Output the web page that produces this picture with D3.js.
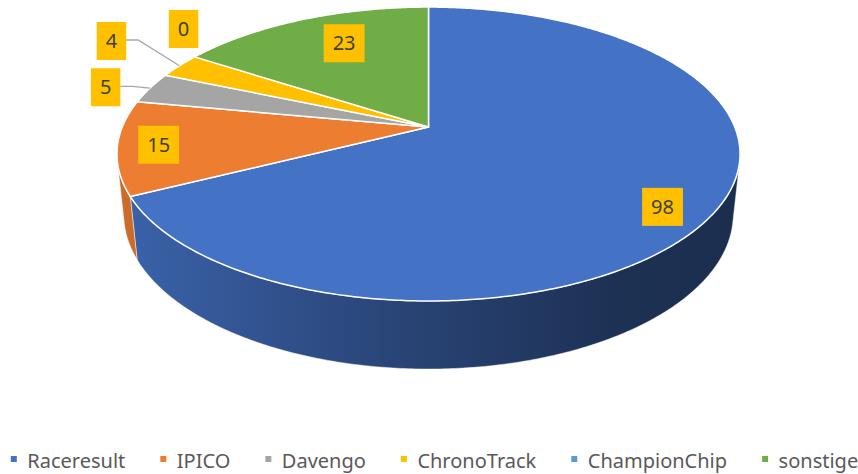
<!DOCTYPE html>
<html><head><meta charset="utf-8">
<script src="https://cdnjs.cloudflare.com/ajax/libs/d3/7.8.5/d3.min.js"></script>
<style>body{margin:0;background:#fff} svg{display:block}</style>
</head><body><svg id="c" width="858" height="474"></svg>
<script>
// ---- data ----
const categories = ["Raceresult","IPICO","Davengo","ChronoTrack","ChampionChip","sonstige"];
const values = [98, 15, 5, 4, 0, 23];
const palette = ["#4472C4","#ED7D31","#A5A5A5","#FFC000","#5B9BD5","#70AD47"];
// label placement in pie space (radius factor, angular nudge in degrees)
const labelRadius = [0.86, 0.87, 1.15, 1.35, 1.21, 0.73];
const labelAngleShift = [4.7, 0, -1.9, 2.4, 7.9, 3.5];

// ---- setup ----
const svg = d3.select("#c");
const defs = svg.append("defs");
const color = d3.scaleOrdinal().domain(categories).range(palette);
const FONT = "'Noto Sans', 'Open Sans', sans-serif";

// perspective projection of a tilted 3D disc
const cx = 428.5, cy = 127;
const F = 1476, D = 4.82, phi = Math.asin(0.4637), depthH = 0.224;
function proj(r, t, z) {
  const u = r * Math.sin(t), v = r * Math.cos(t);
  const dep = D + v * Math.cos(phi) - z * Math.sin(phi);
  const yUp = F * (v * Math.sin(phi) + z * Math.cos(phi)) / dep;
  return [cx + F * u / dep, cy - yUp];
}
function arcPts(a0, a1, z) {
  const n = Math.max(2, Math.ceil((a1 - a0) / 0.01));
  return d3.range(n + 1).map(i => proj(1, a0 + (a1 - a0) * i / n, z));
}

const pie = d3.pie().sort(null).value(d => d.value).startAngle(0).endAngle(2 * Math.PI);
const arcs = pie(categories.map((c, i) => ({ name: c, value: values[i], i })));

const line = d3.line();
const gWall = svg.append("g");
const gTop = svg.append("g");
const gLead = svg.append("g");
const gLab = svg.append("g");

// visible wall range
const ts = Math.acos(-1 / (D * Math.cos(phi)));
const te = 2 * Math.PI - ts;

function shade(c, k) {
  const r = d3.rgb(c);
  return d3.rgb(r.r * k, r.g * k, r.b * k).formatHex();
}

arcs.forEach(a => {
  if (a.data.value <= 0) return;
  const b0 = Math.max(a.startAngle, ts), b1 = Math.min(a.endAngle, te);
  if (b1 <= b0) return;
  const id = "wg" + a.data.i;
  const base = color(a.data.name);
  const g = defs.append("linearGradient").attr("id", id)
    .attr("gradientUnits", "userSpaceOnUse")
    .attr("x1", cx - 312).attr("x2", cx + 312).attr("y1", 0).attr("y2", 0);
  [[0, 0.87], [0.45, 0.6], [0.8, 0.43], [1, 0.4]].forEach(s =>
    g.append("stop").attr("offset", s[0]).attr("stop-color", shade(base, s[1])));
  const pts = arcPts(b0, b1, 0).concat(arcPts(b0, b1, -depthH).reverse());
  gWall.append("path").attr("d", line(pts) + "Z")
    .attr("fill", `url(#${id})`).attr("stroke", "#ffffff")
    .attr("stroke-width", 0.8).attr("stroke-opacity", 0.6);
});

arcs.forEach(a => {
  if (a.data.value <= 0) return;
  const pts = [proj(0, 0, 0)].concat(arcPts(a.startAngle, a.endAngle, 0));
  gTop.append("path").attr("d", line(pts) + "Z")
    .attr("fill", color(a.data.name))
    .attr("stroke", "#ffffff").attr("stroke-width", 1.5).attr("stroke-linejoin", "round");
});

// labels
arcs.forEach(a => {
  const i = a.data.i;
  const mid = (a.startAngle + a.endAngle) / 2;
  const t = mid + labelAngleShift[i] * Math.PI / 180;
  const [lx, ly] = proj(labelRadius[i], t, 0);
  const txt = gLab.append("text").text(values[i])
    .attr("font-family", FONT).attr("font-size", 20).attr("fill", "#404040")
    .attr("text-anchor", "middle").attr("x", lx).attr("y", ly + 7);
  const tw = txt.node().getComputedTextLength();
  const bw = tw + 18, bh = 38;
  gLab.insert("rect", "text").attr("x", lx - bw / 2).attr("y", ly - bh / 2)
    .attr("width", bw).attr("height", bh).attr("fill", "#FFC000");
  if (labelRadius[i] > 1 && a.data.value > 0) {
    const e = proj(1, mid, 0);
    const xr = lx + bw / 2, yy = ly - 1;
    gLead.append("path").attr("d", line([[xr, yy], [xr + 12, yy], e]))
      .attr("fill", "none").attr("stroke", "#A6A6A6").attr("stroke-width", 1.3);
  }
});

// legend
const gLeg = svg.append("g");
const items = categories.map((c, i) => {
  const g = gLeg.append("g");
  g.append("rect").attr("width", 6).attr("height", 6).attr("y", 456).attr("fill", color(c));
  const t = g.append("text").text(c).attr("x", 16.5).attr("y", 467.8)
    .attr("font-family", FONT).attr("font-size", 20).attr("fill", "#595959");
  return { g, w: 16.5 + t.node().getComputedTextLength() };
});
const gap = 35;
const total = d3.sum(items, d => d.w) + gap * (items.length - 1);
let x0 = 434.5 - total / 2;
items.forEach(it => { it.g.attr("transform", `translate(${x0},0)`); x0 += it.w + gap; });
</script></body></html>
